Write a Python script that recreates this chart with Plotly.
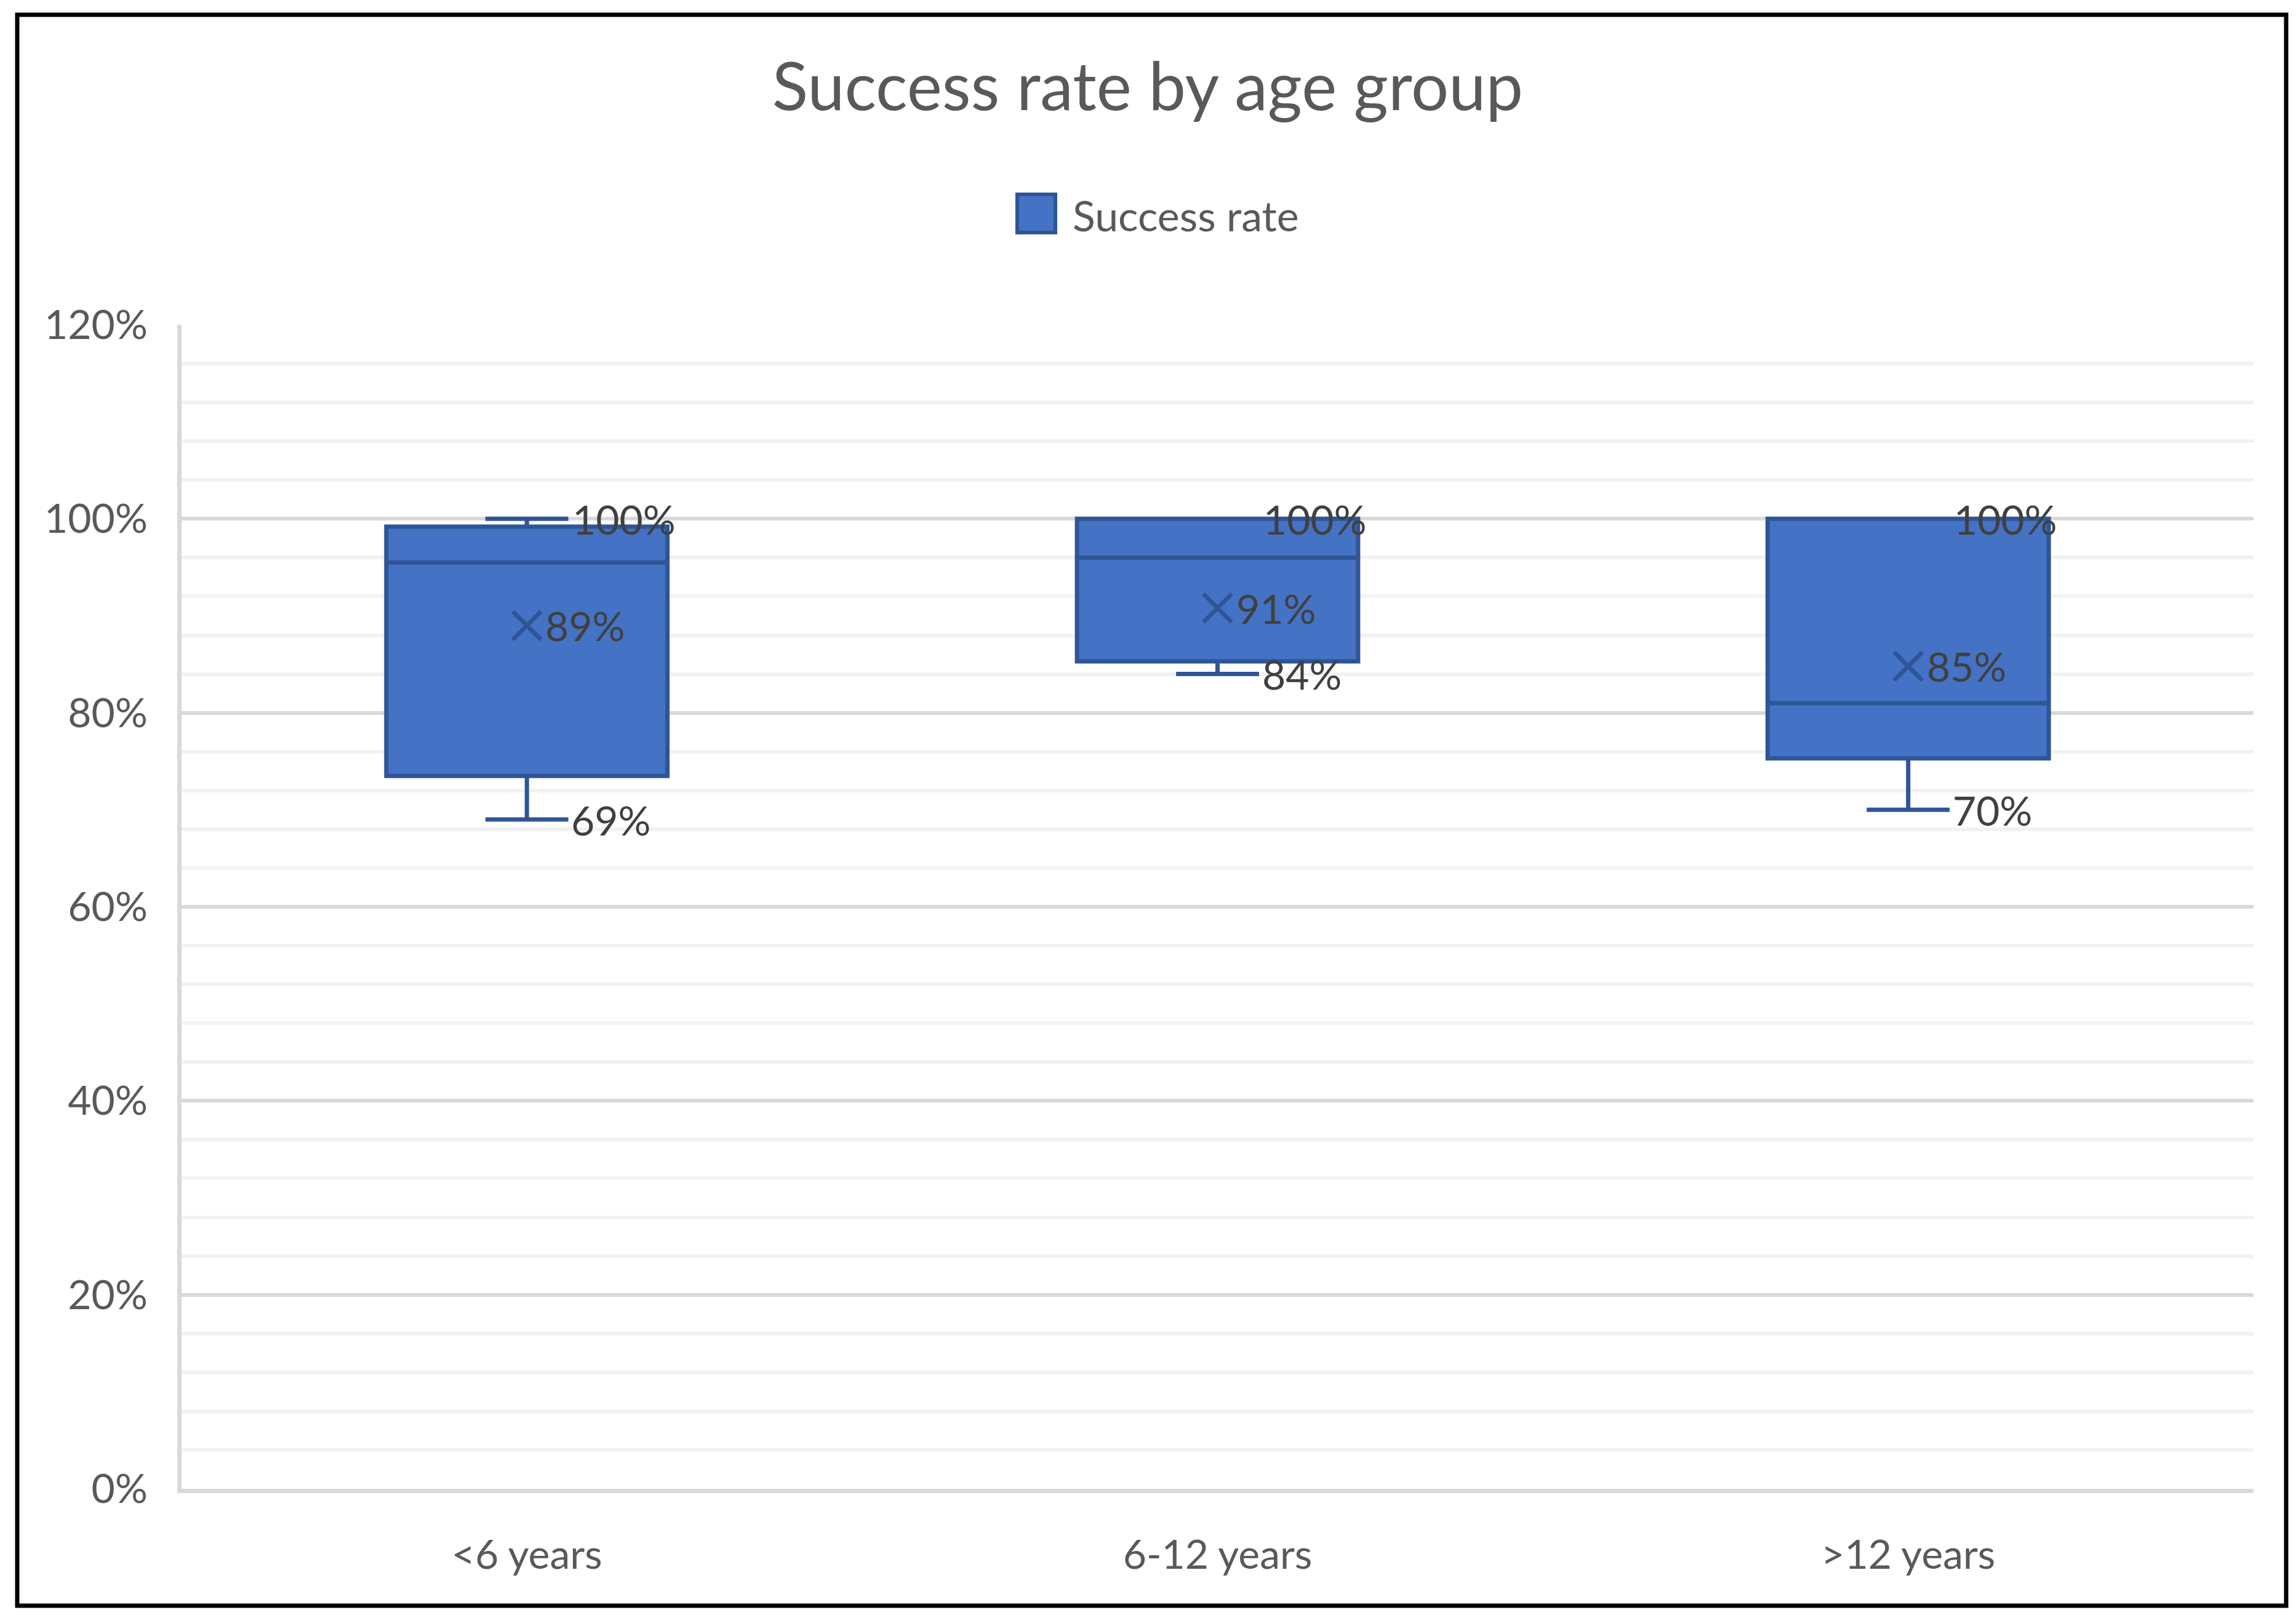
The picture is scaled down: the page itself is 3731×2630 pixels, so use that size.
import plotly.graph_objects as go

# ---- data ----
categories = ["<6 years", "6-12 years", ">12 years"]
lower_whisker = [0.690, 0.840, 0.700]
q1_values = [0.735, 0.853, 0.753]
median_values = [0.955, 0.960, 0.810]
q3_values = [0.992, 1.000, 1.000]
upper_whisker = [1.000, 1.000, 1.000]
mean_values = [0.890, 0.908, 0.848]
y_tick_values = [0.0, 0.2, 0.4, 0.6, 0.8, 1.0, 1.2]
y_tick_labels = ["0%", "20%", "40%", "60%", "80%", "100%", "120%"]
series_name = "Success rate"
chart_title = "Success rate by age group"

# ---- styling ----
W, H = 3731, 2630
L, R, T, B = 287, 77, 520, 218
FONT = "Lato"
BOX_FILL = "#4472C4"
BOX_LINE = "#2F5597"
GRID_MAJOR = "#D9D9D9"
GRID_MINOR = "#F2F2F2"
TEXT_GREY = "#595959"
LABEL_GREY = "#404040"

pw, ph = W - L - R, H - T - B


def px_to_paper_x(px):
    return (px - L) / pw


def px_to_paper_y(py):
    return (H - B - py) / ph


fig = go.Figure()

fig.add_trace(go.Box(
    x=categories,
    q1=q1_values,
    median=median_values,
    q3=q3_values,
    lowerfence=lower_whisker,
    upperfence=upper_whisker,
    name=series_name,
    fillcolor=BOX_FILL,
    line=dict(color=BOX_LINE, width=7),
    width=0.407,
    whiskerwidth=0.295,
    boxpoints=False,
    showlegend=False,
    hoverinfo="skip",
))

fig.add_trace(go.Scatter(
    x=categories,
    y=mean_values,
    mode="markers",
    marker=dict(symbol="x-thin", size=46, color=BOX_LINE,
                line=dict(width=7, color=BOX_LINE)),
    showlegend=False,
    hoverinfo="skip",
))

annotations = []
label_font = dict(family=FONT, size=66, color=LABEL_GREY)
for cat, lo, hi, mn in zip(categories, lower_whisker, upper_whisker, mean_values):
    for val, shift in ((hi, 72), (lo, 70), (mn, 28)):
        annotations.append(dict(
            x=cat, y=val, xref="x", yref="y",
            text=f"{round(val * 100):.0f}%",
            showarrow=False, xanchor="left", yanchor="middle",
            xshift=shift, font=label_font,
        ))

# legend (drawn manually so the swatch can match the large reference swatch)
annotations.append(dict(
    x=px_to_paper_x(1733), y=px_to_paper_y(341), xref="paper", yref="paper",
    text=series_name, showarrow=False, xanchor="left", yanchor="middle",
    font=dict(family=FONT, size=68, color=TEXT_GREY),
))

shapes = [
    # outer chart frame
    dict(type="rect", xref="paper", yref="paper",
         x0=px_to_paper_x(20), x1=px_to_paper_x(3707),
         y0=px_to_paper_y(2602), y1=px_to_paper_y(16),
         line=dict(color="black", width=7), fillcolor="rgba(0,0,0,0)"),
    # legend swatch
    dict(type="rect", xref="paper", yref="paper",
         x0=px_to_paper_x(1645), x1=px_to_paper_x(1707),
         y0=px_to_paper_y(370), y1=px_to_paper_y(308),
         line=dict(color=BOX_LINE, width=6), fillcolor=BOX_FILL),
]

fig.update_layout(
    width=W, height=H,
    margin=dict(l=L, r=R, t=T, b=B, autoexpand=False),
    paper_bgcolor="white", plot_bgcolor="white",
    font=dict(family=FONT, color=TEXT_GREY),
    title=dict(text=chart_title, x=0.4977, xref="container", xanchor="center",
               y=1 - 133 / H, yref="container", yanchor="middle",
               font=dict(family=FONT, size=108, color=TEXT_GREY)),
    showlegend=False,
    annotations=annotations,
    shapes=shapes,
    xaxis=dict(type="category", range=[-0.5, 2.5], showgrid=False,
               showline=True, linecolor=GRID_MAJOR, linewidth=7,
               ticks="", zeroline=False, ticklabelstandoff=44,
               tickfont=dict(family=FONT, size=66, color=TEXT_GREY)),
    yaxis=dict(range=[0, 1.2], tickvals=y_tick_values, ticktext=y_tick_labels,
               showgrid=True, gridcolor=GRID_MAJOR, gridwidth=6,
               minor=dict(tick0=0, dtick=0.04, showgrid=True,
                          gridcolor=GRID_MINOR, gridwidth=6),
               showline=True, linecolor=GRID_MAJOR, linewidth=7,
               ticks="", zeroline=False, ticklabelstandoff=35,
               tickfont=dict(family=FONT, size=66, color=TEXT_GREY)),
)

fig.write_html("out.html")
